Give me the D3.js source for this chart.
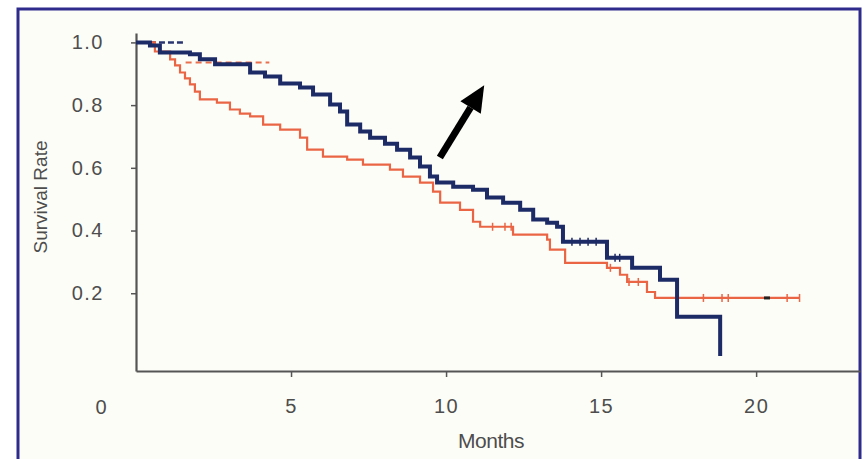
<!DOCTYPE html>
<html lang="en">
<head>
    <meta charset="UTF-8">
    <title>Survival</title>
    <script src="https://cdn.jsdelivr.net/npm/d3@7"></script>
    <style>
        body { margin: 0; background: #fff; }
        text { font-family: "Liberation Sans", Arial, sans-serif; fill: #4d4d4d; }
    </style>
</head>
<body>
<script>
    // step times (months) and survival after each step
    const blueTimes = [0, 0.45, 0.77, 1.74, 2.06, 2.55, 3.68, 4.16, 4.65, 5.29, 5.71, 6.26, 6.58, 6.81, 7.23, 7.55, 8.03, 8.42,
        8.84, 9.16, 9.48, 9.71, 10.23, 10.87, 11.32, 11.84, 12.39, 12.81, 13.26, 13.58, 13.77, 15.19, 16.0, 16.9, 17.45, 18.84]
    const blueSurv = [1.0, 0.99, 0.968, 0.962, 0.946, 0.93, 0.904, 0.891, 0.869, 0.856, 0.834, 0.802, 0.78, 0.738, 0.716, 0.696, 0.677, 0.658,
        0.633, 0.604, 0.572, 0.553, 0.54, 0.53, 0.505, 0.489, 0.466, 0.435, 0.425, 0.412, 0.364, 0.313, 0.281, 0.243, 0.125, 0.0]
    const redTimes = [0, 0.61, 1.10, 1.26, 1.42, 1.58, 1.74, 1.90, 2.06, 2.61, 3.03, 3.35, 3.68, 4.10, 4.65, 5.29, 5.52, 6.03, 6.81,
        7.32, 8.19, 8.61, 9.16, 9.58, 9.81, 10.45, 10.87, 11.10, 12.16, 13.26, 13.35, 13.84, 15.19, 15.61, 15.84, 16.48, 16.74, 21.4]
    const redSurv = [1.0, 0.971, 0.946, 0.927, 0.904, 0.885, 0.866, 0.843, 0.818, 0.808, 0.786, 0.773, 0.764, 0.738, 0.722, 0.696, 0.658, 0.636, 0.626,
        0.61, 0.594, 0.572, 0.553, 0.524, 0.489, 0.466, 0.428, 0.412, 0.387, 0.371, 0.339, 0.297, 0.281, 0.259, 0.236, 0.204, 0.185, 0.185]
    // censored observations (tick marks)
    const blueCensor = [14.06, 14.32, 14.58, 14.84, 15.45, 15.6]
    const redCensor = [11.5, 11.9, 12.1, 15.3, 15.9, 16.2, 18.3, 18.9, 19.1, 21.0, 21.4]
    // faint dashed remnants near the top
    const blueDashT = [0.45, 1.6], blueDashS = [1.0, 1.0]
    const redDashT = [1.6, 4.3], redDashS = [0.936, 0.936]
    const xTicks = [5, 10, 15, 20]
    const yTicks = [0.2, 0.4, 0.6, 0.8, 1.0]
    const arrowFrom = [9.8, 0.633], arrowTo = [11.23, 0.863]

    const [width, height] = [865, 459]
    const svg = d3.select('body').append('svg')
        .attr('width', width)
        .attr('height', height)

    // frame
    svg.append('rect')
        .attr('x', 18).attr('y', 9).attr('width', 842).attr('height', 460)
        .attr('fill', '#fdfdf8').attr('stroke', '#2e2b8c').attr('stroke-width', 3)

    const x = d3.scaleLinear().domain([0, 23.35]).range([136, 860])
    const y = d3.scaleLinear().domain([-0.048, 1.03]).range([371, 33])

    const axisColor = '#555'
    const xAxis = svg.append('g')
        .attr('transform', `translate(0, ${y(-0.048)})`)
        .call(d3.axisBottom(x).tickValues(xTicks).tickSize(6).tickPadding(22).tickSizeOuter(0))
    const yAxis = svg.append('g')
        .attr('transform', `translate(${x(0)}, 0)`)
        .call(d3.axisLeft(y).tickValues(yTicks).tickFormat(d3.format('.1f')).tickSize(5).tickPadding(27).tickSizeOuter(0))
    for (const g of [xAxis, yAxis]) {
        g.select('.domain').attr('stroke', axisColor).attr('stroke-width', 2.2)
        g.selectAll('.tick line').attr('stroke', axisColor).attr('stroke-width', 1.5)
        g.selectAll('.tick text')
            .attr('fill', '#4d4d4d')
            .style('font-size', '20px')
            .style('letter-spacing', '1.5px')
            .style('font-family', '"Liberation Sans", Arial, sans-serif')
    }
    // lone "0" sitting left of the origin
    svg.append('text')
        .attr('x', x(0) - 35).attr('y', 414)
        .attr('text-anchor', 'middle')
        .style('font-size', '20px')
        .text('0')

    svg.append('text')
        .attr('x', 491).attr('y', 448)
        .attr('text-anchor', 'middle')
        .style('font-size', '21px')
        .style('letter-spacing', '-0.5px')
        .text('Months')
    svg.append('text')
        .attr('transform', 'translate(47, 197) rotate(-90)')
        .attr('text-anchor', 'middle')
        .style('font-size', '19px')
        .text('Survival Rate')

    const step = d3.line()
        .x(d => x(d[0]))
        .y(d => y(d[1]))
        .curve(d3.curveStepAfter)
    const zip = (a, b) => a.map((v, i) => [v, b[i]])
    const survAt = (times, surv, t) => surv[d3.bisectRight(times, t) - 1]

    // dashed remnants
    svg.append('path').attr('d', step(zip(redDashT, redDashS)))
        .attr('fill', 'none').attr('stroke', '#e8704e').attr('stroke-width', 2).attr('stroke-dasharray', '6,4')
    svg.append('path').attr('d', step(zip(blueDashT, blueDashS)))
        .attr('fill', 'none').attr('stroke', '#2a3570').attr('stroke-width', 2.5).attr('stroke-dasharray', '6,3')

    const curves = [
        {t: redTimes, s: redSurv, c: redCensor, color: '#ea6544', w: 2.2},
        {t: blueTimes, s: blueSurv, c: blueCensor, color: '#1c2a66', w: 4},
    ]
    curves.forEach(cv => {
        svg.append('path')
            .attr('d', step(zip(cv.t, cv.s)))
            .attr('fill', 'none')
            .attr('stroke', cv.color)
            .attr('stroke-width', cv.w)
            .attr('stroke-linejoin', 'miter')
        svg.append('g').selectAll('line')
            .data(cv.c)
            .enter()
            .append('line')
            .attr('x1', d => x(d)).attr('x2', d => x(d))
            .attr('y1', d => y(survAt(cv.t, cv.s, d)) - 4)
            .attr('y2', d => y(survAt(cv.t, cv.s, d)) + 4)
            .attr('stroke', cv.color)
            .attr('stroke-width', 1.5)
    })
    // small dark censor dot on red plateau
    svg.append('rect')
        .attr('x', x(20.35) - 3).attr('y', y(0.185) - 1.5).attr('width', 6).attr('height', 3)
        .attr('fill', '#222')

    // arrow annotation
    const ax0 = x(arrowFrom[0]), ay0 = y(arrowFrom[1]), ax1 = x(arrowTo[0]), ay1 = y(arrowTo[1])
    const ang = Math.atan2(ay1 - ay0, ax1 - ax0)
    const headLen = 26, headW = 12
    const bx = ax1 - headLen * Math.cos(ang), by = ay1 - headLen * Math.sin(ang)
    svg.append('line')
        .attr('x1', ax0).attr('y1', ay0).attr('x2', bx).attr('y2', by)
        .attr('stroke', '#000').attr('stroke-width', 7)
    svg.append('path')
        .attr('d', `M${ax1},${ay1}L${bx + headW * Math.sin(ang)},${by - headW * Math.cos(ang)}L${bx - headW * Math.sin(ang)},${by + headW * Math.cos(ang)}Z`)
        .attr('fill', '#000')
</script>
</body>
</html>
